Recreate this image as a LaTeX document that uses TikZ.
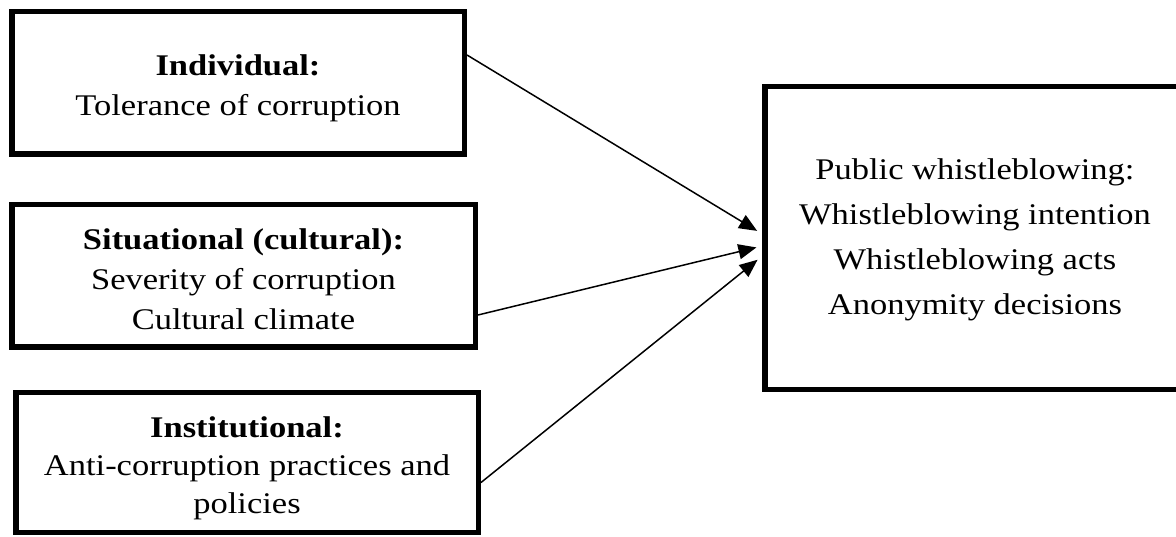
\documentclass[tikz,border=0pt]{standalone}
\usepackage{fontspec}
\setmainfont{Liberation Serif}
\usetikzlibrary{arrows.meta}
\newcommand{\boxtext}[2][0pt]{\raisebox{-#1}[\height][\depth]{\scalebox{1.15}[1]{\begin{tabular}{@{}c@{}}#2\end{tabular}}}}

\begin{document}
\begin{tikzpicture}[x=1pt, y=-1pt,
	factor/.style={draw, line width=5.5pt, inner sep=0pt, font=\fontsize{30}{40}\selectfont},
	link/.style={-{Triangle[length=18pt,width=15pt]}, line width=1.5pt, shorten >=6pt}]
		%%%%% START %%%%%
		
		\useasboundingbox (0, 0) rectangle (1176, 537);
		
		\node[factor, minimum width=452.5pt, minimum height=142.5pt] (indiv) at (238, 83)
			{\boxtext[5pt]{\textbf{Individual:}\\Tolerance of corruption}};
		\node[factor, minimum width=463.5pt, minimum height=142.5pt] (situ) at (243.5, 276)
			{\boxtext[6pt]{\textbf{Situational (cultural):}\\Severity of corruption\\Cultural climate}};
		\node[factor, minimum width=462.5pt, minimum height=139.5pt, font=\fontsize{30}{38}\selectfont] (instit) at (247, 462.5)
			{\boxtext[5pt]{\textbf{Institutional:}\\Anti-corruption practices and\\policies}};
		
		\node[factor, minimum width=420pt, minimum height=303pt, font=\fontsize{30}{45}\selectfont] (whistle) at (975, 238)
			{\boxtext{Public whistleblowing:\\Whistleblowing intention\\Whistleblowing acts\\Anonymity decisions}};
		
		\draw[link] ([yshift=28pt]indiv.east) -- ([yshift=4pt]whistle.west);
		\draw[link] ([yshift=-39pt]situ.east) -- ([yshift=-8pt]whistle.west);
		\draw[link] ([yshift=-20pt]instit.east) -- ([yshift=-18pt]whistle.west);
		
		%%%%% END %%%%%
	\end{tikzpicture}
\end{document}
